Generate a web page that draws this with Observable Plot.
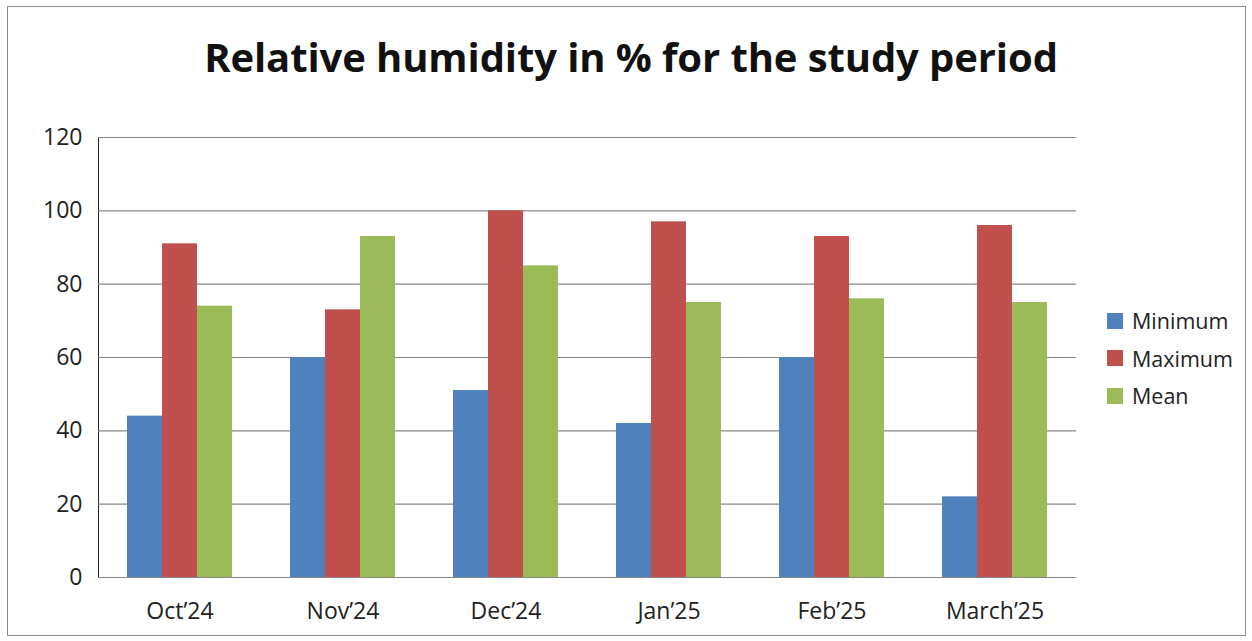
<!DOCTYPE html>
<html>
<head>
<meta charset="utf-8">
<script src="https://cdn.jsdelivr.net/npm/d3@7"></script>
<script src="https://cdn.jsdelivr.net/npm/@observablehq/plot@0.6"></script>
<style>
  html, body { margin: 0; padding: 0; background: #fff; }
  #wrap { position: relative; width: 1252px; height: 641px; overflow: hidden; background: #fff; font-family: "Open Sans", sans-serif; }
  #frame { position: absolute; left: 7px; top: 6px; width: 1239px; height: 630px; border: 1.5px solid #8c8c8c; box-sizing: border-box; pointer-events: none; }
  #title { position: absolute; left: 0; top: 0; width: 1262px; height: 110px; text-align: center; font-weight: 700; font-size: 40px; line-height: 114px; color: #111; letter-spacing: -0.1px; }
  #chart { position: absolute; left: 0; top: 110px; }
  #legend { position: absolute; left: 1107px; top: 302px; font-size: 21.5px; color: #222; }
  .li { display: flex; align-items: center; height: 37.5px; }
  .sw { width: 16px; height: 16px; margin-right: 9px; }
</style>
</head>
<body>
<div id="wrap">
  <div id="title">Relative humidity in % for the study period</div>
  <div id="chart"></div>
  <div id="legend"></div>
  <div id="frame"></div>
</div>
<script>
const months = ["Oct’24", "Nov’24", "Dec’24", "Jan’25", "Feb’25", "March’25"];
const series = ["Minimum", "Maximum", "Mean"];
const minimum = [44, 60, 51, 42, 60, 22];
const maximum = [91, 73, 100, 97, 93, 96];
const mean = [74, 93, 85, 75, 76, 75];
const colors = ["#4F81BD", "#C0504D", "#9BBB59"];
const yTicks = [0, 20, 40, 60, 80, 100, 120];

const values = {Minimum: minimum, Maximum: maximum, Mean: mean};
const data = months.flatMap((m, i) => series.map(s => ({month: m, series: s, value: values[s][i]})));

const chart = Plot.plot({
  width: 1252,
  height: 517,
  marginLeft: 97,
  marginRight: 176,
  marginTop: 27,
  marginBottom: 50,
  style: {fontSize: "23px", fontFamily: "Open Sans", color: "#222", background: "transparent"},
  fx: {domain: months, padding: 0, axis: "bottom", label: null, tickSize: 0, tickPadding: 25},
  x: {domain: series, paddingInner: 0, paddingOuter: 0.764, axis: null},
  y: {domain: [0, 120], ticks: yTicks, label: null, tickSize: 0, tickPadding: 16, line: true},
  color: {domain: series, range: colors},
  marks: [
    Plot.ruleY(yTicks, {stroke: "#878787", strokeWidth: 1.2}),
    Plot.barY(data, {fx: "month", x: "series", y: "value", fill: "series"}),
    Plot.ruleY([0], {stroke: "#878787", strokeWidth: 1.2})
  ]
});
document.getElementById("chart").appendChild(chart);

const legend = document.getElementById("legend");
series.forEach((s, i) => {
  const row = document.createElement("div");
  row.className = "li";
  const sw = document.createElement("div");
  sw.className = "sw";
  sw.style.background = colors[i];
  const t = document.createElement("span");
  t.textContent = s;
  row.appendChild(sw);
  row.appendChild(t);
  legend.appendChild(row);
});
</script>
</body>
</html>
